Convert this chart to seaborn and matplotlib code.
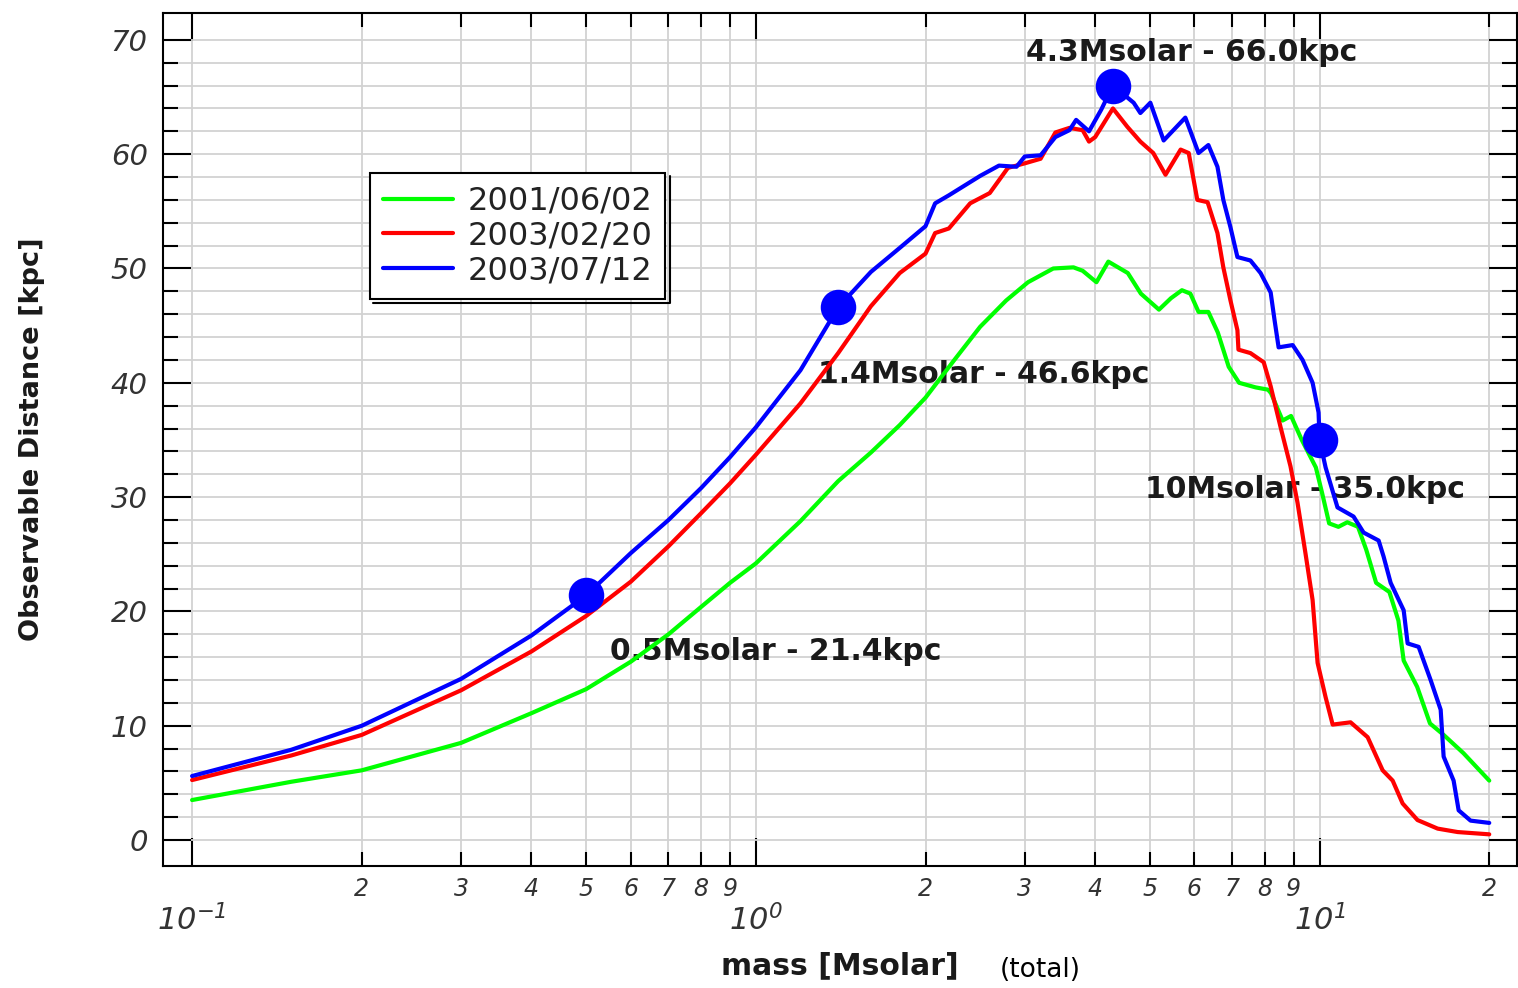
import numpy as np
import pandas as pd
import matplotlib
matplotlib.use("Agg")
import matplotlib.pyplot as plt
from matplotlib.lines import Line2D
import seaborn as sns

# ---- data ----
dates = ["2001/06/02", "2003/02/20", "2003/07/12"]
colors = ["#00ff00", "#ff0000", "#0000ff"]

green_mass = [0.1, 0.15, 0.2, 0.3, 0.4, 0.5, 0.6, 0.7, 0.8, 0.9, 1.0, 1.2, 1.4, 1.6, 1.8,
              2.0, 2.25, 2.5, 2.78, 3.04, 3.37, 3.66, 3.8, 4.02, 4.22, 4.57, 4.82, 5.19,
              5.45, 5.7, 5.9, 6.1, 6.35, 6.6, 6.9, 7.2, 7.7, 8.1, 8.2, 8.6, 8.9, 9.3,
              9.85, 10.1, 10.4, 10.8, 11.2, 11.7, 12.1, 12.6, 13.3, 13.8, 14.1, 14.9,
              15.7, 16.6, 18.0, 20.0]
green_dist = [3.5, 5.1, 6.1, 8.5, 11.1, 13.2, 15.6, 18.0, 20.4, 22.5, 24.2, 27.9, 31.4, 33.9, 36.3,
              38.7, 42.0, 44.9, 47.2, 48.8, 50.0, 50.1, 49.8, 48.8, 50.6, 49.6, 47.8, 46.4,
              47.4, 48.1, 47.8, 46.2, 46.2, 44.4, 41.4, 40.0, 39.6, 39.4, 39.1, 36.7, 37.1, 35.0,
              32.6, 30.4, 27.7, 27.4, 27.8, 27.4, 25.4, 22.5, 21.7, 19.2, 15.7, 13.4,
              10.2, 9.2, 7.6, 5.2]

red_mass = [0.1, 0.15, 0.2, 0.3, 0.4, 0.5, 0.6, 0.7, 0.8, 0.9, 1.0, 1.2, 1.4, 1.6, 1.8,
            2.0, 2.08, 2.2, 2.4, 2.6, 2.8, 3.0, 3.2, 3.4, 3.6, 3.8, 3.9, 4.0, 4.3,
            4.56, 4.81, 5.07, 5.33, 5.67, 5.86, 6.07, 6.33, 6.59, 6.75, 6.95, 7.15, 7.18,
            7.54, 7.96, 8.19, 8.53, 8.88, 9.14, 9.44, 9.72, 9.92, 10.25, 10.55, 11.35,
            12.17, 12.94, 13.48, 14.04, 14.92, 16.2, 17.58, 20.0]
red_dist = [5.25, 7.4, 9.2, 13.1, 16.5, 19.6, 22.6, 25.7, 28.6, 31.2, 33.7, 38.2, 42.6, 46.7, 49.6,
            51.3, 53.1, 53.5, 55.7, 56.6, 58.8, 59.2, 59.6, 61.9, 62.3, 62.1, 61.1, 61.5, 64.0,
            62.4, 61.1, 60.1, 58.2, 60.4, 60.1, 56.0, 55.8, 53.1, 50.1, 47.2, 44.6, 42.9,
            42.6, 41.8, 39.7, 36.1, 32.7, 29.5, 25.1, 21.0, 15.5, 12.5, 10.1, 10.3,
            9.0, 6.1, 5.2, 3.2, 1.75, 1.0, 0.7, 0.5]

blue_mass = [0.1, 0.15, 0.2, 0.3, 0.4, 0.5, 0.6, 0.7, 0.8, 0.9, 1.0, 1.2, 1.4, 1.6, 1.8,
             2.0, 2.08, 2.2, 2.5, 2.7, 2.9, 3.0, 3.2, 3.4, 3.6, 3.7, 3.9, 4.1, 4.3,
             4.68, 4.81, 5.01, 5.29, 5.78, 6.1, 6.35, 6.59, 6.75, 6.95, 7.15, 7.54, 7.86,
             8.19, 8.32, 8.46, 8.96, 9.33, 9.72, 9.96, 10.0, 10.25, 10.76, 11.49, 11.97,
             12.73, 12.99, 13.37, 14.1, 14.33, 14.99, 15.74, 16.4, 16.6, 17.29, 17.65,
             18.53, 20.0]
blue_dist = [5.6, 7.9, 10.0, 14.1, 17.9, 21.4, 25.1, 28.0, 30.8, 33.5, 36.1, 41.1, 46.6, 49.7, 51.8,
             53.7, 55.7, 56.4, 58.1, 59.0, 58.9, 59.8, 59.9, 61.5, 62.1, 63.0, 62.0, 63.9, 66.0,
             64.5, 63.6, 64.5, 61.2, 63.2, 60.1, 60.8, 58.9, 56.0, 53.6, 51.0, 50.7, 49.6,
             47.9, 45.5, 43.1, 43.3, 42.0, 40.0, 37.4, 35.0, 32.6, 29.1, 28.3, 26.9,
             26.2, 24.8, 22.5, 20.1, 17.2, 16.9, 14.0, 11.4, 7.3, 5.2, 2.6,
             1.7, 1.5]

# highlighted points on the 2003/07/12 curve
point_mass = [0.5, 1.4, 4.3, 10]
point_dist = [21.4, 46.6, 66.0, 35.0]
# where each label starts (mass, kpc)
label_pos = [(0.552, 16.5), (1.29, 40.7), (3.01, 68.9), (4.91, 30.7)]

major_x = [0.1, 1, 10]
major_x_labels = [r"$\mathrm{10}^{\mathrm{-1}}$", r"$\mathrm{10}^{\mathrm{0}}$", r"$\mathrm{10}^{\mathrm{1}}$"]
minor_x = [0.2, 0.3, 0.4, 0.5, 0.6, 0.7, 0.8, 0.9, 2, 3, 4, 5, 6, 7, 8, 9, 20]
minor_x_labels = ["2", "3", "4", "5", "6", "7", "8", "9",
                  "2", "3", "4", "5", "6", "7", "8", "9", "2"]
major_y = [0, 10, 20, 30, 40, 50, 60, 70]

df = pd.concat([
    pd.DataFrame({"mass": green_mass, "dist": green_dist, "date": dates[0]}),
    pd.DataFrame({"mass": red_mass, "dist": red_dist, "date": dates[1]}),
    pd.DataFrame({"mass": blue_mass, "dist": blue_dist, "date": dates[2]}),
])

sns.set_style("ticks")
plt.rcParams["font.family"] = ["DejaVu Sans"]
# slanted digits for the 10^n labels
plt.rcParams["mathtext.fontset"] = "custom"
plt.rcParams["mathtext.rm"] = "DejaVu Sans:italic"
plt.rcParams["mathtext.it"] = "DejaVu Sans:italic"

fig = plt.figure(figsize=(15.18, 9.88), dpi=100)
ax = fig.add_axes([163 / 1518, 1 - 866 / 988, (1517 - 163) / 1518, (866 - 13) / 988])

sns.lineplot(data=df, x="mass", y="dist", hue="date", palette=dict(zip(dates, colors)),
             estimator=None, sort=False, legend=False, lw=3, ax=ax, zorder=3)
sns.scatterplot(x=point_mass, y=point_dist, color="#0000ff", edgecolor="#0000ff",
                s=560, marker="o", ax=ax, zorder=4)

for (tx, ty), m, d in zip(label_pos, point_mass, point_dist):
    ax.text(tx, ty, f"{m:g}Msolar - {d:.1f}kpc", fontsize=21.5, fontweight="bold",
            color="#1a1a1a", va="center", ha="left", zorder=2.5)

ax.set_xscale("log")
ax.set_xlim(0.0888, 22.4)
ax.set_ylim(-2.27, 72.35)

ax.set_xticks(major_x, major_x_labels, fontsize=22, color="#333333")
ax.set_xticks(minor_x, minor_x_labels, minor=True, fontsize=17, fontstyle="italic", color="#333333")
ax.set_yticks(major_y, [str(v) for v in major_y], fontsize=21, fontstyle="italic", color="#333333")
ax.set_yticks(np.arange(0, 71, 2), minor=True)

ax.tick_params(which="both", direction="in", top=True, right=True, width=1.5, color="black")
ax.tick_params(which="major", length=20)
ax.tick_params(axis="x", which="minor", length=10, pad=8)
ax.tick_params(axis="x", which="major", pad=27)
ax.tick_params(axis="y", which="minor", length=11)
ax.tick_params(axis="y", which="major", pad=11)

ax.grid(which="both", color="#d2d2d2", lw=1.3)
ax.set_axisbelow(True)
for sp in ax.spines.values():
    sp.set_linewidth(1.5)
    sp.set_color("black")

ax.set_xlabel("mass [Msolar]", fontsize=21.5, fontweight="bold", color="#1a1a1a")
ax.xaxis.set_label_coords(0.5, -0.10)
ax.set_ylabel("Observable Distance [kpc]", fontsize=19.5, fontweight="bold", color="#1a1a1a")
ax.yaxis.set_label_coords(-0.087, 0.5)
ax.text(0.648, -0.122, "(total)", transform=ax.transAxes, ha="center", va="center",
        fontsize=19, color="black")

handles = [Line2D([], [], color=c, lw=3) for c in colors]
leg = ax.legend(handles, dates, loc="upper left", bbox_to_anchor=(370 / 1518, 1 - 173 / 988),
                bbox_transform=fig.transFigure, borderaxespad=0, fontsize=23, frameon=True,
                fancybox=False, edgecolor="black", framealpha=1, handlelength=2.2,
                handletextpad=0.45, borderpad=0.4, labelspacing=0.12)
leg.get_frame().set_linewidth(1.5)
leg.set_zorder(5)
for t in leg.get_texts():
    t.set_color("#222222")

# thin offset outline on the right and bottom of the legend box
fig.canvas.draw()
bb = leg.get_frame().get_window_extent()
inv = fig.transFigure.inverted()
x0, y0 = inv.transform((bb.x0 + 3, bb.y0 - 4))
x1, y1 = inv.transform((bb.x1 + 5, bb.y1 - 3))
fig.add_artist(Line2D([x1, x1, x0], [y1, y0, y0], color="black", lw=1.5,
                      transform=fig.transFigure))

fig.savefig("out.png", dpi=100)
